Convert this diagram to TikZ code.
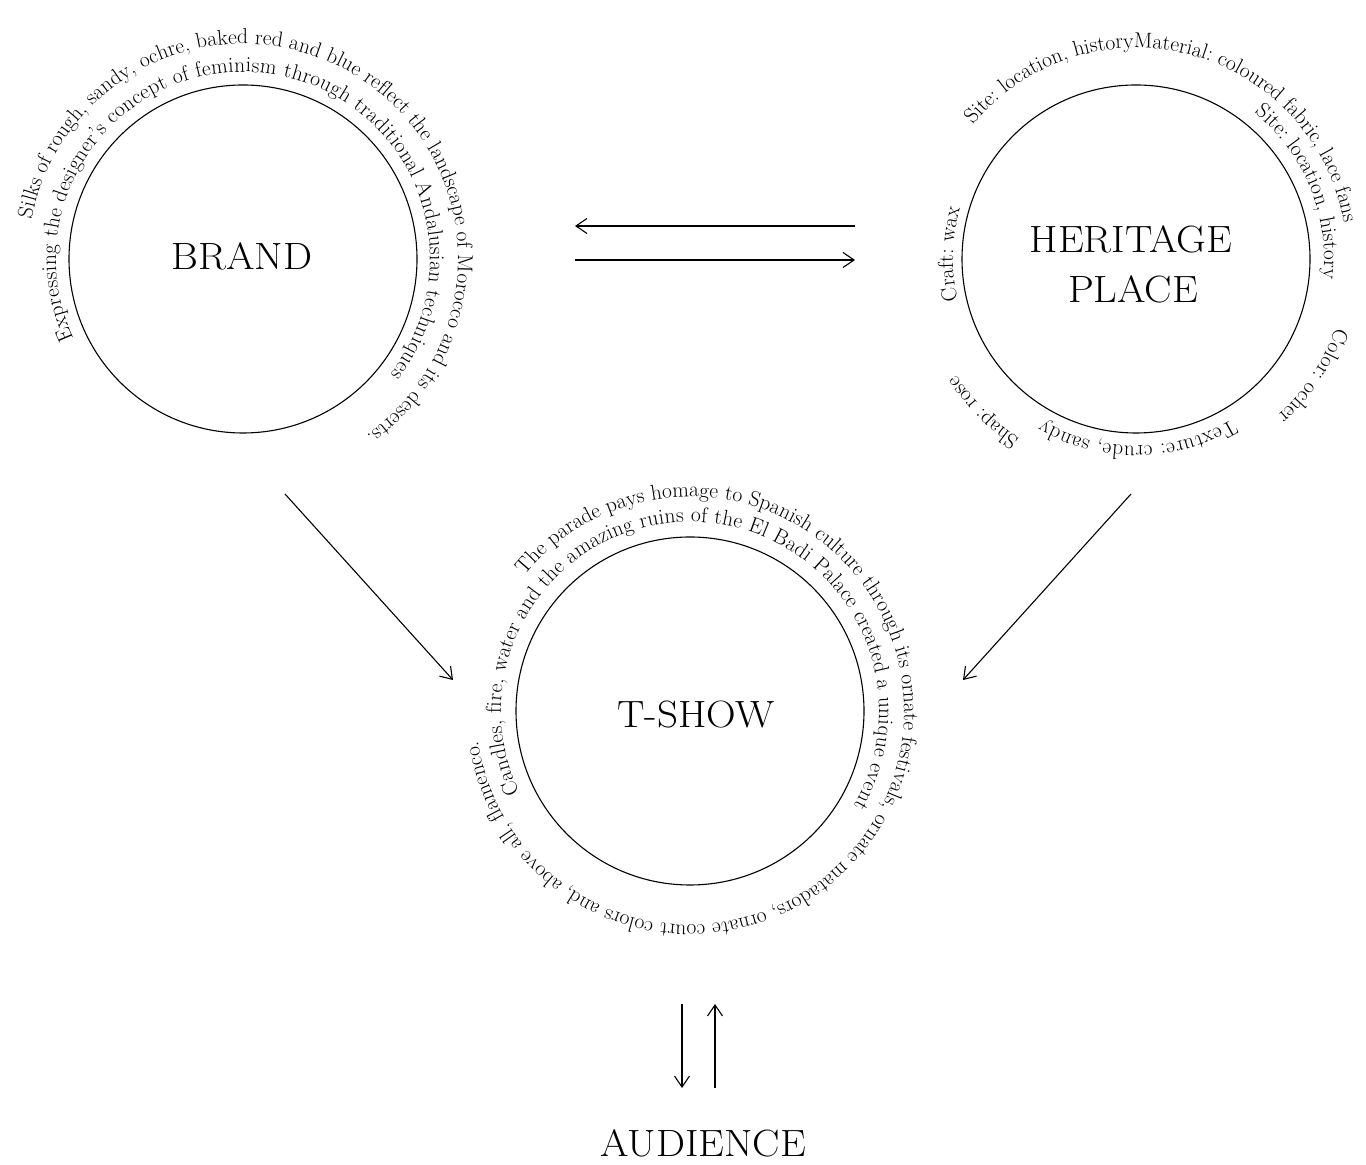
\documentclass[tikz,border=0pt]{standalone}
\usetikzlibrary{decorations.text,arrows.meta}
\newcommand\arcfont{\fontsize{21.5}{24}\selectfont}
\newcommand\arctext[5]{%
  \path[decorate, decoration={text along path, text align=fit to path,
        text={|\arcfont|#5}}]
    ([shift={(#3:#2)}]#1) arc[start angle=#3, end angle=#4, radius=#2];}
\newcommand\ttl[1]{\scalebox{1.08}[1]{#1}}
\begin{document}
\begin{tikzpicture}[x=1pt,y=1pt,
  ring/.style={circle, draw, line width=1.1pt, minimum size=348pt, inner sep=0pt},
  title/.style={font=\fontsize{38}{40}\selectfont, anchor=base, inner sep=0pt},
  link/.style={line width=1.1pt, -{Straight Barb[length=11pt,width=15pt,line width=1.1pt]}}]
\useasboundingbox (0,0) rectangle (1366,1165);

% circles
\node[ring] (brand) at (243,906) {};
\node[ring] (herit) at (1136,906) {};
\node[ring] (tshow) at (690,454) {};

% titles
\node[title] (brandlbl) at (242,895) {\ttl{BRAND}};
\node[title] (heritlbla) at (1131,912) {\ttl{HERITAGE}};
\node[title] (heritlblb) at (1133,862) {\ttl{PLACE}};
\node[title] (tshowlbl) at (696,437) {\ttl{T-SHOW}};
\node[title] (audience) at (703,8) {\ttl{AUDIENCE}};

% arc texts
\arctext{brand}{215}{169.3}{-55}{Silks of rough, sandy, ochre, baked red and blue reflect the landscape of Morocco and its deserts.}
\arctext{brand}{187}{205}{-38}{Expressing the designer’s concept of feminism through traditional Andalusian techniques}
\arctext{herit}{211}{140.5}{10}{Site: location, historyMaterial: coloured fabric, lace fans}
\arctext{herit}{188}{51}{-6}{Site: location, history}
\arctext{herit}{183}{193}{164}{Craft: wax}
\arctext{herit}{211}{-19}{-48}{Color: ocher}
\arctext{herit}{187}{-59}{-120}{Texture: crude, sandy}
\arctext{herit}{214}{237}{213}{Shap: rose}
\arctext{tshow}{214}{140.7}{-172}{The parade pays homage to Spanish culture through its ornate festivals, ornate matadors, ornate court colors and, above all, flamenco.}
\arctext{tshow}{189}{205.5}{-30}{Candles, fire, water and the amazing ruins of the El Badi Palace created a unique event}

% connectors
\coordinate (h1s) at (855,939); \coordinate (h1e) at (575,939);
\coordinate (h2s) at (575,905); \coordinate (h2e) at (855,905);
\coordinate (d1s) at (285,671); \coordinate (d1e) at (453,485);
\coordinate (d2s) at (1131,671); \coordinate (d2e) at (963,485);
\coordinate (v1s) at (682,161); \coordinate (v1e) at (682,77);
\coordinate (v2s) at (715,77); \coordinate (v2e) at (715,161);
\draw[link] (h1s) -- (h1e);
\draw[link] (h2s) -- (h2e);
\draw[link] (d1s) -- (d1e);
\draw[link] (d2s) -- (d2e);
\draw[link] (v1s) -- (v1e);
\draw[link] (v2s) -- (v2e);
\end{tikzpicture}
\end{document}
